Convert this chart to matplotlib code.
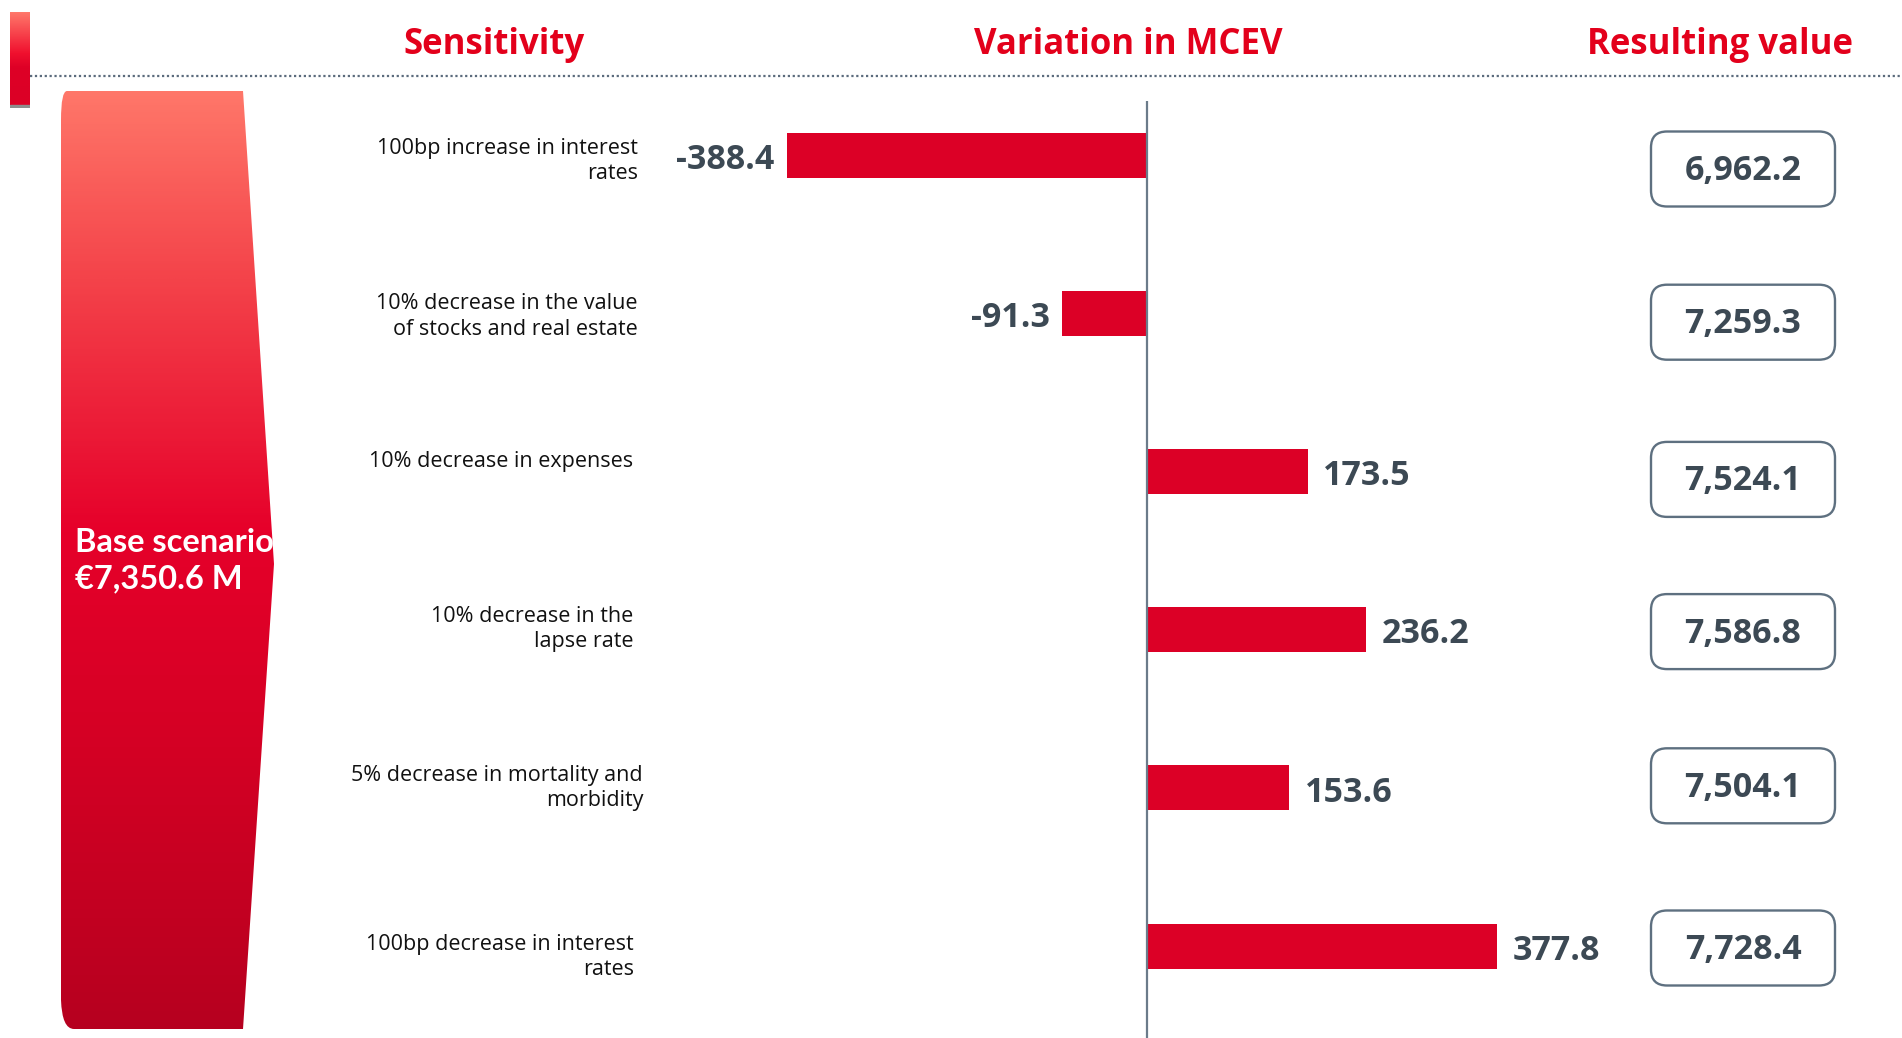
import numpy as np
import matplotlib
matplotlib.use("Agg")
import matplotlib.pyplot as plt
from matplotlib.patches import FancyBboxPatch, PathPatch, Rectangle
from matplotlib.path import Path
from matplotlib.lines import Line2D
from matplotlib.colors import LinearSegmentedColormap
from matplotlib.transforms import blended_transform_factory

# ---------------- data ----------------
sensitivities = [
    "100bp increase in interest\nrates",
    "10% decrease in the value\nof stocks and real estate",
    "10% decrease in expenses",
    "10% decrease in the\nlapse rate",
    "5% decrease in mortality and\nmorbidity",
    "100bp decrease in interest\nrates",
]
variations = [-388.4, -91.3, 173.5, 236.2, 153.6, 377.8]
resulting_values = ["6,962.2", "7,259.3", "7,524.1", "7,586.8", "7,504.1", "7,728.4"]
headers = ["Sensitivity", "Variation in MCEV", "Resulting value"]
base_label = "Base scenario\n€7,350.6 M"

# ---------------- layout (pixels) ----------------
label_right_px = [638, 638, 633, 633, 643, 634]
label_first_line_dy = [-10, -13, -13, -17, -16, -5]
box_dy = [14, 9, 8, 2, -2, 2]

# ---------------- style ----------------
plt.rcParams['font.family'] = ['Open Sans', 'DejaVu Sans']
RED = '#e3001b'
BAR = '#dc0026'
GRAY_TXT = '#3c4954'
EDGE = '#5e7080'

W, H = 1902, 1038
fig = plt.figure(figsize=(W / 100, H / 100), dpi=100)
fig.patch.set_facecolor('white')

def fy(py):
    return 1 - py / H

# ---------------- bar axes ----------------
ax_left, ax_right, ax_top = 660, 1560, 101
zero_px, px_per_unit = 1147, 0.927
row0_px, row_step = 155, 158.2
ax = fig.add_axes([ax_left / W, 0, (ax_right - ax_left) / W, (H - ax_top) / H])
ax.set_xlim(-(zero_px - ax_left) / px_per_unit, (ax_right - zero_px) / px_per_unit)
ax.set_ylim((H - row0_px) / row_step, (ax_top - row0_px) / row_step)
ax.axis('off')

idx = np.arange(len(variations))
ax.barh(idx, variations, height=45 / row_step, color=BAR, zorder=2)
ax.axvline(0, color='#6b7b8a', lw=1.6, zorder=3)

for i, v in zip(idx, variations):
    if v < 0:
        ax.annotate(f"{v:.1f}", xy=(v, i), xytext=(-9, -3.5), textcoords='offset points',
                    ha='right', va='center', fontsize=24.5, fontweight='bold', color=GRAY_TXT)
    else:
        ax.annotate(f"{v:.1f}", xy=(v, i), xytext=(11, -3.5), textcoords='offset points',
                    ha='left', va='center', fontsize=24.5, fontweight='bold', color=GRAY_TXT)

lab_tr = blended_transform_factory(fig.transFigure, ax.transData)
for i, lab, xr, dy in zip(idx, sensitivities, label_right_px, label_first_line_dy):
    ax.text(xr / W, i + (dy - 7) / row_step, lab, transform=lab_tr, ha='right', va='top',
            multialignment='right', fontsize=15.5, color='#111111', linespacing=1.27)

# ---------------- result boxes ----------------
bx0, bx1 = 1580, 1902
axb = fig.add_axes([bx0 / W, 0, (bx1 - bx0) / W, (H - ax_top) / H])
axb.set_xlim(bx0, bx1)
axb.set_ylim(ax.get_ylim())
axb.axis('off')
box_cx, box_w, box_h = 1743, 184, 75 / row_step
for i, val, dy in zip(idx, resulting_values, box_dy):
    cy = i + dy / row_step
    p = FancyBboxPatch((box_cx - box_w / 2, cy - box_h / 2), box_w, box_h,
                       boxstyle='round,pad=0,rounding_size=16', mutation_aspect=1 / row_step,
                       fc='white', ec=EDGE, lw=1.7)
    axb.add_patch(p)
    axb.text(box_cx, cy + 2 / row_step, val, ha='center', va='center', fontsize=24.5,
             fontweight='bold', color=GRAY_TXT)

# ---------------- headers ----------------
for txt, cx in zip(headers, [494, 1128, 1720]):
    fig.text(cx / W, fy(45), txt, ha='center', va='center', fontsize=25,
             fontweight='bold', color=RED)

fig.add_artist(Line2D([30 / W, 1], [fy(76), fy(76)], transform=fig.transFigure,
                      color='#5b6b7c', lw=1.6, linestyle=(0, (1, 1.2))))

# ---------------- accent bar ----------------
axa = fig.add_axes([10 / W, fy(108), 20 / W, 96 / H])
axa.set_xlim(0, 1); axa.set_ylim(108, 12); axa.axis('off')
acc_cmap = LinearSegmentedColormap.from_list('acc', [(0, '#ff7a6c'), (0.45, '#f0102e'),
                                                      (0.6, '#de0026'), (1, '#dc0026')])
axa.imshow(np.linspace(0, 1, 200).reshape(-1, 1), cmap=acc_cmap, aspect='auto',
           extent=(0, 1, 105, 12))
axa.add_patch(Rectangle((0, 105), 1, 3, color='#8d8d8d'))

# ---------------- base scenario shape ----------------
axs = fig.add_axes([55 / W, fy(1034), 225 / W, (1034 - 86) / H])
axs.set_xlim(55, 280); axs.set_ylim(1034, 86); axs.axis('off')
verts = [(67, 91), (243, 91), (274, 564), (243, 1029), (74, 1029),
         (62, 1029), (61, 1000), (61, 120), (61, 91), (67, 91)]
codes = [Path.MOVETO, Path.LINETO, Path.LINETO, Path.LINETO, Path.LINETO,
         Path.CURVE3, Path.CURVE3, Path.LINETO, Path.CURVE3, Path.CURVE3]
shape = PathPatch(Path(verts, codes), fc='none', ec='none')
axs.add_patch(shape)
sh_cmap = LinearSegmentedColormap.from_list('sh', [(0, '#ff786a'), (0.2, '#f4434a'),
                                                    (0.47, '#e6002a'), (0.7, '#d40024'),
                                                    (1, '#b6001f')])
im = axs.imshow(np.linspace(0, 1, 400).reshape(-1, 1), cmap=sh_cmap, aspect='auto',
                extent=(55, 280, 1034, 86))
im.set_clip_path(shape)
fig.text(75 / W, fy(561), base_label, ha='left', va='center', fontsize=23.5,
         fontweight='bold', color='white', linespacing=1.3, family=['Lato', 'DejaVu Sans'])

fig.savefig('out.png', dpi=100, facecolor='white')
